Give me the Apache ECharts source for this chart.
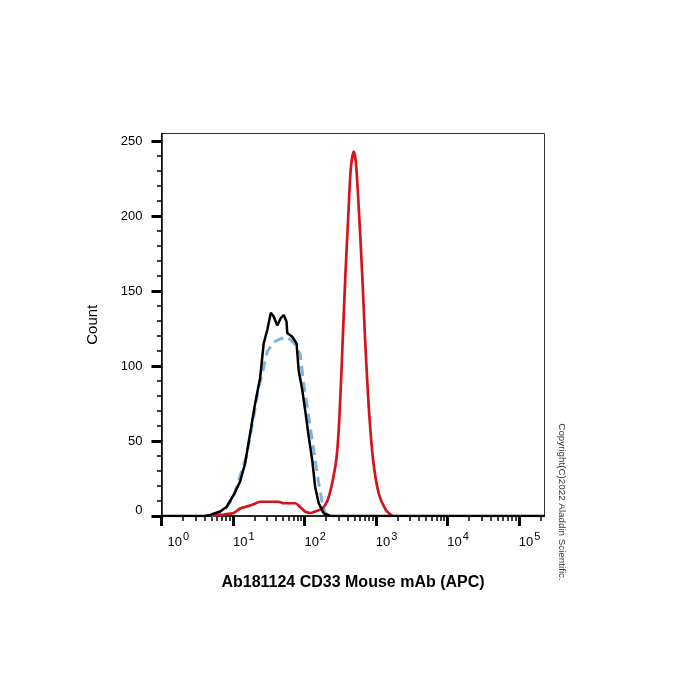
<!DOCTYPE html>
<html>
<head>
<meta charset="utf-8">
<script src="https://cdn.jsdelivr.net/npm/echarts@6/dist/echarts.min.js"></script>
<style>
    html, body { margin: 0; padding: 0; background: #fff; }
    #chart { width: 700px; height: 700px; }
</style>
</head>
<body>
<div id="chart"></div>
<script>
// x values are log10 of the APC intensity, y values are event counts
var blackX = [0, 0.6, 0.68, 0.82, 0.91, 1.01, 1.10, 1.17, 1.24, 1.31, 1.38, 1.43, 1.48, 1.53, 1.57, 1.62, 1.67, 1.71, 1.75, 1.76, 1.83, 1.89, 1.92, 1.97, 2.01, 2.06, 2.11, 2.15, 2.20, 2.27, 2.36, 5.36];
var blackY = [0, 0, 0.7, 3, 6, 14, 23, 35, 55, 75, 92, 115, 124, 135.5, 133, 127, 132, 134, 129.5, 122, 119.5, 115, 97, 84, 70.7, 53, 37, 19.5, 8.5, 1.8, 0, 0];

var blueX = [0.7, 0.87, 1.01, 1.19, 1.29, 1.36, 1.42, 1.48, 1.57, 1.66, 1.76, 1.86, 1.94, 1.99, 2.06, 2.13, 2.20, 2.25, 2.29, 2.36];
var blueY = [0, 3, 13, 40, 66, 86, 97, 109.5, 116, 118, 119.5, 115, 108, 88, 66, 44, 22, 8.5, 2, 0];

var redX = [0.72, 0.87, 1.01, 1.10, 1.17, 1.27, 1.38, 1.64, 1.71, 1.87, 1.94, 2.01, 2.08, 2.15, 2.25, 2.32, 2.38, 2.45, 2.49, 2.53, 2.57, 2.62, 2.65, 2.69, 2.72, 2.76, 2.81, 2.85, 2.90, 2.96, 3.04, 3.14, 3.23];
var redY = [0, 1, 2, 5, 6, 7.5, 9.5, 9.5, 8.5, 8.5, 6, 3, 2, 3, 5, 10, 20, 39, 66, 110, 157, 206, 232, 243, 236, 206, 160, 117, 73, 38, 15, 4, 0];

var xDecades = [0, 1, 2, 3, 4, 5];
var yMajor = [0, 50, 100, 150, 200, 250];
var yMinor = [10, 20, 30, 40, 60, 70, 80, 90, 110, 120, 130, 140, 160, 170, 180, 190, 210, 220, 230, 240];

var xName = 'Ab181124 CD33 Mouse mAb (APC)';
var yName = 'Count';
var copyright = 'Copyright(C)2022 Aladdin Scientific.';

// minor log ticks (2..9 in every decade)
var xMinor = [];
for (var d = 0; d <= 5; d++) {
    for (var k = 2; k <= 9; k++) {
        var v = d + Math.log10(k);
        if (v < 5.36) xMinor.push(v);
    }
}

function pairs(xs, ys) {
    return xs.map(function (x, i) { return [x, ys[i]]; });
}

var font = 'Arial, "Liberation Sans", sans-serif';
var chart = echarts.init(document.getElementById('chart'));

chart.setOption({
    animation: false,
    backgroundColor: '#fff',
    grid: {
        left: 161.5, right: 155.5, top: 133.5, bottom: 184,
        show: true, borderColor: '#333', borderWidth: 1, backgroundColor: 'transparent'
    },
    xAxis: [{
        type: 'value', min: 0, max: 5.36,
        name: xName, nameLocation: 'middle', nameGap: 59,
        nameTextStyle: { fontFamily: font, fontSize: 16, fontWeight: 'bold', color: '#000' },
        axisLine: { show: true, lineStyle: { color: '#000', width: 1.5 } },
        axisTick: { show: true, length: 10, customValues: xDecades, lineStyle: { color: '#000', width: 3 } },
        axisLabel: {
            customValues: xDecades, margin: 15, align: 'left',
            formatter: function (v) {
                return (v === 0 ? '{p|10}' : '{b|10}') + '{s|' + v + '}';
            },
            rich: {
                b: { fontFamily: font, fontSize: 13, color: '#000', lineHeight: 22 },
                p: { fontFamily: font, fontSize: 13, color: '#000', lineHeight: 22, padding: [0, 0, 0, 6] },
                s: { fontFamily: font, fontSize: 11, color: '#000', lineHeight: 11, verticalAlign: 'top', padding: [0, 0, 0, 1] }
            }
        },
        splitLine: { show: false }
    }, {
        // minor ticks only
        type: 'value', min: 0, max: 5.36, position: 'bottom',
        axisLine: { show: false },
        axisTick: { show: true, length: 5, customValues: xMinor, lineStyle: { color: '#000', width: 1.5 } },
        axisLabel: { show: false },
        splitLine: { show: false }
    }],
    yAxis: [{
        type: 'value', min: 0, max: 255,
        name: yName, nameLocation: 'middle', nameGap: 61,
        nameTextStyle: { fontFamily: font, fontSize: 15, color: '#000' },
        axisLine: { show: true, lineStyle: { color: '#000', width: 1.5 } },
        axisTick: { show: true, length: 10, customValues: yMajor, lineStyle: { color: '#000', width: 3 } },
        axisLabel: {
            customValues: yMajor, margin: 19,
            fontFamily: font, fontSize: 13, color: '#000',
            formatter: function (v) { return v === 0 ? '{z|0}' : String(v); },
            rich: { z: { fontFamily: font, fontSize: 13, color: '#000', padding: [0, 0, 12, 0] } }
        },
        splitLine: { show: false }
    }, {
        type: 'value', min: 0, max: 255, position: 'left',
        axisLine: { show: false },
        axisTick: { show: true, length: 4.5, customValues: yMinor, lineStyle: { color: '#000', width: 1.5 } },
        axisLabel: { show: false },
        splitLine: { show: false }
    }],
    series: [{
        type: 'line', name: 'blue', data: pairs(blueX, blueY),
        showSymbol: false, symbol: 'none',
        lineStyle: { color: '#7ab3e2', width: 3, type: [10, 6] }
    }, {
        type: 'line', name: 'red', data: pairs(redX, redY),
        showSymbol: false, symbol: 'none', smooth: 0.25,
        lineStyle: { color: '#d3141b', width: 2.7 }
    }, {
        type: 'line', name: 'black', data: pairs(blackX, blackY),
        showSymbol: false, symbol: 'none',
        lineStyle: { color: '#000', width: 2.5 }
    }],
    graphic: [{
        type: 'text', x: 562, y: 502, rotation: -Math.PI / 2,
        style: {
            text: copyright, fontFamily: font, fontSize: 9.8, fill: '#333',
            align: 'center', verticalAlign: 'middle'
        }
    }]
});
</script>
</body>
</html>
